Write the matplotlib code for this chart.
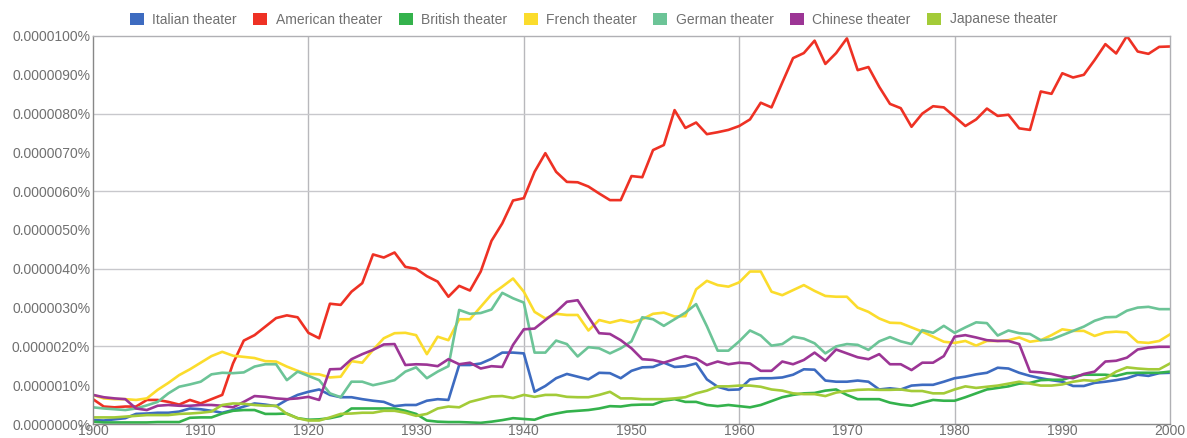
import matplotlib.pyplot as plt
import numpy as np
from matplotlib.patches import Patch
from matplotlib.ticker import FuncFormatter, MultipleLocator

plt.rcParams['font.family'] = ['Liberation Sans', 'DejaVu Sans']

years = np.arange(1900, 2001)

# values in units of 0.0000001% (i.e. 10 -> 0.0000100%)
italian = [0.10, 0.09, 0.12, 0.15, 0.26, 0.27, 0.29, 0.29, 0.32, 0.40,
           0.38, 0.34, 0.29, 0.36, 0.45, 0.53, 0.50, 0.46, 0.62, 0.75,
           0.83, 0.89, 0.75, 0.69, 0.69, 0.64, 0.60, 0.57, 0.46, 0.49,
           0.49, 0.60, 0.64, 0.62, 1.52, 1.52, 1.56, 1.68, 1.84, 1.84,
           1.82, 0.83, 0.98, 1.18, 1.29, 1.22, 1.15, 1.32, 1.31, 1.18,
           1.37, 1.46, 1.47, 1.58, 1.47, 1.49, 1.56, 1.15, 0.96, 0.88,
           0.89, 1.15, 1.18, 1.18, 1.20, 1.27, 1.41, 1.40, 1.12, 1.09,
           1.09, 1.12, 1.09, 0.89, 0.92, 0.89, 0.99, 1.01, 1.01, 1.09,
           1.18, 1.22, 1.28, 1.32, 1.45, 1.43, 1.32, 1.24, 1.18, 1.13,
           1.09, 0.98, 0.98, 1.06, 1.09, 1.13, 1.18, 1.27, 1.24, 1.31,
           1.32]
american = [0.64, 0.45, 0.43, 0.45, 0.45, 0.62, 0.62, 0.57, 0.50, 0.62,
            0.53, 0.64, 0.75, 1.56, 2.15, 2.29, 2.51, 2.73, 2.80, 2.75,
            2.35, 2.21, 3.10, 3.07, 3.41, 3.63, 4.37, 4.29, 4.42, 4.05,
            4.00, 3.81, 3.67, 3.28, 3.56, 3.44, 3.93, 4.72, 5.17, 5.76,
            5.82, 6.50, 6.98, 6.50, 6.24, 6.23, 6.12, 5.94, 5.77, 5.77,
            6.39, 6.36, 7.06, 7.19, 8.09, 7.63, 7.77, 7.47, 7.52, 7.58,
            7.68, 7.85, 8.28, 8.16, 8.80, 9.43, 9.56, 9.88, 9.28, 9.56,
            9.94, 9.12, 9.20, 8.69, 8.25, 8.14, 7.66, 8.00, 8.19, 8.16,
            7.92, 7.68, 7.85, 8.13, 7.94, 7.97, 7.62, 7.58, 8.57, 8.51,
            9.04, 8.93, 9.00, 9.38, 9.79, 9.55, 10.00, 9.60, 9.54, 9.72,
            9.73]
british = [0.06, 0.04, 0.04, 0.04, 0.04, 0.04, 0.05, 0.05, 0.05, 0.16,
           0.17, 0.17, 0.27, 0.34, 0.36, 0.36, 0.26, 0.26, 0.27, 0.15,
           0.11, 0.12, 0.15, 0.21, 0.40, 0.40, 0.40, 0.40, 0.40, 0.34,
           0.26, 0.09, 0.06, 0.05, 0.05, 0.04, 0.03, 0.06, 0.10, 0.15,
           0.13, 0.11, 0.21, 0.27, 0.32, 0.34, 0.36, 0.40, 0.46, 0.45,
           0.49, 0.50, 0.50, 0.60, 0.64, 0.57, 0.57, 0.49, 0.46, 0.49,
           0.46, 0.43, 0.49, 0.59, 0.69, 0.75, 0.79, 0.80, 0.86, 0.89,
           0.75, 0.64, 0.64, 0.64, 0.55, 0.50, 0.47, 0.55, 0.62, 0.60,
           0.60, 0.69, 0.79, 0.89, 0.93, 0.97, 1.04, 1.06, 1.13, 1.14,
           1.14, 1.22, 1.27, 1.27, 1.27, 1.24, 1.31, 1.32, 1.32, 1.32,
           1.35]
french = [0.75, 0.66, 0.64, 0.64, 0.62, 0.66, 0.88, 1.06, 1.26, 1.41,
          1.58, 1.75, 1.86, 1.76, 1.73, 1.70, 1.62, 1.61, 1.48, 1.37,
          1.29, 1.28, 1.20, 1.22, 1.62, 1.58, 1.91, 2.21, 2.34, 2.35,
          2.29, 1.80, 2.25, 2.16, 2.70, 2.70, 3.02, 3.34, 3.54, 3.75,
          3.41, 2.89, 2.72, 2.84, 2.81, 2.81, 2.41, 2.68, 2.61, 2.68,
          2.62, 2.70, 2.84, 2.87, 2.77, 2.78, 3.47, 3.69, 3.58, 3.54,
          3.65, 3.93, 3.93, 3.41, 3.32, 3.45, 3.58, 3.43, 3.30, 3.28,
          3.28, 3.00, 2.89, 2.72, 2.61, 2.60, 2.49, 2.38, 2.25, 2.12,
          2.09, 2.14, 2.02, 2.14, 2.14, 2.16, 2.23, 2.12, 2.16, 2.29,
          2.44, 2.40, 2.40, 2.27, 2.36, 2.38, 2.36, 2.11, 2.09, 2.14,
          2.31]
german = [0.43, 0.40, 0.38, 0.36, 0.40, 0.48, 0.57, 0.79, 0.96, 1.02,
          1.09, 1.28, 1.32, 1.31, 1.33, 1.48, 1.54, 1.54, 1.13, 1.35,
          1.24, 1.13, 0.79, 0.69, 1.09, 1.09, 1.00, 1.06, 1.13, 1.35,
          1.46, 1.18, 1.35, 1.49, 2.94, 2.84, 2.86, 2.95, 3.38, 3.24,
          3.13, 1.84, 1.84, 2.15, 2.06, 1.74, 1.98, 1.95, 1.82, 1.95,
          2.13, 2.75, 2.70, 2.53, 2.70, 2.87, 3.09, 2.52, 1.89, 1.89,
          2.13, 2.41, 2.28, 2.02, 2.06, 2.25, 2.20, 2.08, 1.82, 2.00,
          2.06, 2.04, 1.91, 2.13, 2.24, 2.13, 2.06, 2.42, 2.35, 2.53,
          2.35, 2.49, 2.62, 2.60, 2.28, 2.41, 2.34, 2.32, 2.16, 2.18,
          2.29, 2.40, 2.51, 2.66, 2.75, 2.76, 2.92, 3.00, 3.02, 2.96,
          2.96]
chinese = [0.75, 0.69, 0.66, 0.64, 0.40, 0.36, 0.47, 0.49, 0.47, 0.47,
           0.49, 0.49, 0.47, 0.43, 0.57, 0.72, 0.70, 0.66, 0.64, 0.66,
           0.70, 0.62, 1.41, 1.42, 1.67, 1.80, 1.91, 2.05, 2.06, 1.52,
           1.54, 1.53, 1.49, 1.67, 1.54, 1.58, 1.43, 1.49, 1.47, 2.04,
           2.44, 2.46, 2.68, 2.89, 3.15, 3.19, 2.76, 2.34, 2.32, 2.16,
           1.95, 1.67, 1.65, 1.58, 1.67, 1.75, 1.69, 1.52, 1.61, 1.54,
           1.58, 1.56, 1.37, 1.37, 1.61, 1.54, 1.65, 1.84, 1.63, 1.92,
           1.82, 1.72, 1.67, 1.80, 1.54, 1.54, 1.39, 1.58, 1.58, 1.75,
           2.25, 2.29, 2.23, 2.16, 2.14, 2.14, 2.06, 1.35, 1.33, 1.29,
           1.22, 1.18, 1.29, 1.35, 1.61, 1.63, 1.71, 1.92, 1.97, 1.99,
           1.99]
japanese = [0.17, 0.17, 0.17, 0.19, 0.21, 0.23, 0.23, 0.23, 0.26, 0.27,
            0.29, 0.32, 0.49, 0.53, 0.52, 0.49, 0.47, 0.47, 0.26, 0.15,
            0.09, 0.09, 0.17, 0.26, 0.27, 0.29, 0.29, 0.34, 0.34, 0.29,
            0.21, 0.26, 0.40, 0.45, 0.43, 0.57, 0.64, 0.71, 0.72, 0.67,
            0.75, 0.70, 0.75, 0.75, 0.70, 0.69, 0.69, 0.75, 0.83, 0.66,
            0.66, 0.64, 0.64, 0.64, 0.66, 0.69, 0.79, 0.86, 0.97, 0.97,
            0.99, 0.99, 0.96, 0.89, 0.86, 0.79, 0.77, 0.77, 0.72, 0.81,
            0.85, 0.88, 0.89, 0.88, 0.88, 0.89, 0.85, 0.85, 0.79, 0.79,
            0.89, 0.97, 0.93, 0.96, 0.99, 1.04, 1.09, 1.04, 0.99, 0.99,
            1.02, 1.09, 1.13, 1.11, 1.18, 1.35, 1.46, 1.43, 1.41, 1.41,
            1.56]

series = [
    ('Italian theater', italian, '#3d6bc0'),
    ('American theater', american, '#ee3124'),
    ('British theater', british, '#34b24c'),
    ('French theater', french, '#fbdc2c'),
    ('German theater', german, '#6cc497'),
    ('Chinese theater', chinese, '#9c3595'),
    ('Japanese theater', japanese, '#a3cb38'),
]

fig = plt.figure(figsize=(11.87, 4.38), dpi=100)
ax = fig.add_axes([93/1187, 1 - 424/438, (1170-93)/1187, (424-36)/438])

for name, vals, color in series:
    ax.plot(years, vals, color=color, lw=1.9, solid_joinstyle='round')

ax.set_xlim(1900, 2000)
ax.set_ylim(0, 10)

ax.xaxis.set_major_locator(MultipleLocator(10))
ax.yaxis.set_major_locator(MultipleLocator(1))
ax.yaxis.set_major_formatter(FuncFormatter(lambda v, p: f'{v * 1e-6:.7f}%'))

# grid every 20 years / every 0.0000020%
for gx in [1920, 1940, 1960, 1980]:
    ax.axvline(gx, color='#b8b8bc', lw=1.0, zorder=0)
for gy in [2, 4, 6, 8]:
    ax.axhline(gy, color='#c8c8cc', lw=1.0, zorder=0)

for s in ax.spines.values():
    s.set_color('#b0b0b4')
    s.set_linewidth(1.0)
ax.spines['left'].set_color('#888888')
ax.spines['bottom'].set_color('#888888')

ax.tick_params(axis='both', labelcolor='#707070', labelsize=10, length=0)
ax.tick_params(axis='x', pad=0)
ax.tick_params(axis='y', pad=2)

handles = [Patch(facecolor=c, edgecolor='none') for _, _, c in series]
labels = [n for n, _, _ in series]
leg = fig.legend(handles, labels, loc='upper center', ncol=7, frameon=False,
                 bbox_to_anchor=(0.5, 1.0), fontsize=10,
                 handlelength=1.0, handleheight=1.0, handletextpad=0.6,
                 columnspacing=1.2)
for t in leg.get_texts():
    t.set_color('#707070')

fig.savefig('out.png', dpi=100)
